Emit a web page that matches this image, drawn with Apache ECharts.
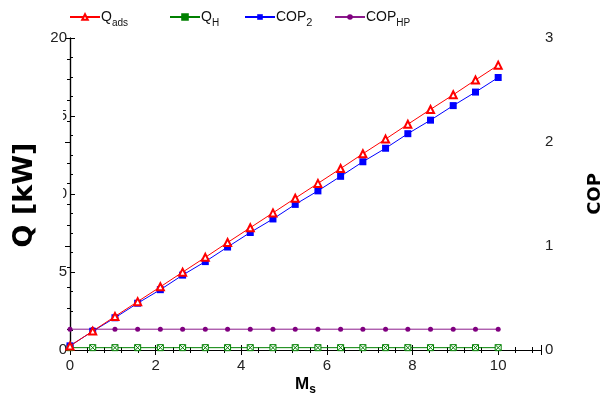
<!DOCTYPE html>
<html>
<head>
<meta charset="utf-8">
<script src="https://cdn.jsdelivr.net/npm/echarts@6/dist/echarts.min.js"></script>
<style>
  html, body { margin: 0; padding: 0; background: #fff; }
  #chart { width: 603px; height: 394px; }
</style>
</head>
<body>
<div id="chart"></div>
<script>
// Mass ratio M_s on the horizontal axis
const msValues = [0, 0.53, 1.05, 1.58, 2.11, 2.63, 3.16, 3.68, 4.21, 4.74,
                  5.26, 5.79, 6.32, 6.84, 7.37, 7.89, 8.42, 8.95, 9.47, 10];
// Heat flows [kW] (left axis)
const qAds = [0.26, 1.21, 2.15, 3.10, 4.05, 4.99, 5.94, 6.89, 7.84, 8.79,
              9.73, 10.68, 11.63, 12.58, 13.52, 14.47, 15.42, 16.36, 17.31, 18.26];
const qH = [0.15, 0.15, 0.15, 0.15, 0.15, 0.15, 0.15, 0.15, 0.15, 0.15,
            0.15, 0.15, 0.15, 0.15, 0.15, 0.15, 0.15, 0.15, 0.15, 0.15];
// Coefficients of performance (right axis)
const cop2 = [0.04, 0.18, 0.31, 0.45, 0.58, 0.72, 0.85, 0.99, 1.13, 1.26,
              1.40, 1.53, 1.67, 1.81, 1.94, 2.08, 2.21, 2.35, 2.48, 2.62];
const copHP = [0.2, 0.2, 0.2, 0.2, 0.2, 0.2, 0.2, 0.2, 0.2, 0.2,
               0.2, 0.2, 0.2, 0.2, 0.2, 0.2, 0.2, 0.2, 0.2, 0.2];

const seriesNames = ['Q_ads', 'Q_H', 'COP_2', 'COP_HP'];
const legendLabels = {
  'Q_ads': 'Q{sub|ads}',
  'Q_H': 'Q{sub|H}',
  'COP_2': 'COP{sub2|2}',
  'COP_HP': 'COP{sub|HP}'
};
const legendLeft = [64, 164, 239, 329];

const pairs = (ys) => msValues.map((x, i) => [x, ys[i]]);

const axisFont = { fontFamily: 'Liberation Sans, Arial, sans-serif', fontSize: 15, color: '#222' };
const lineAxis = { lineStyle: { color: '#000', width: 1.2 } };

const chart = echarts.init(document.getElementById('chart'), null, { renderer: 'canvas' });

const legendRich = {
  sub: { fontSize: 10, fontFamily: 'Liberation Sans, Arial, sans-serif', color: '#111', verticalAlign: 'bottom', lineHeight: 16, padding: [0, 0, -3, 0] },
  sub2: { fontSize: 11, fontFamily: 'Liberation Sans, Arial, sans-serif', color: '#111', verticalAlign: 'bottom', lineHeight: 16, padding: [0, 0, -3, 0] }
};

chart.setOption({
  animation: false,
  backgroundColor: '#fff',
  grid: { left: 70, right: 62, top: 38, bottom: 44, containLabel: false, outerBoundsMode: 'none' },
  legend: seriesNames.map((n, i) => ({
    data: [n],
    left: legendLeft[i],
    top: 5,
    itemWidth: 30,
    itemHeight: 7,
    itemGap: 0,
    formatter: (name) => legendLabels[name],
    textStyle: {
      fontFamily: 'Liberation Sans, Arial, sans-serif',
      fontSize: 14,
      color: '#111',
      padding: [0, 0, 0, -4],
      rich: legendRich
    }
  })),
  xAxis: [
    {
      type: 'value', min: 0, max: 11, interval: 2,
      position: 'bottom',
      name: '{m|M}{s|s}',
      nameLocation: 'middle',
      nameMoveOverlap: false,
      nameGap: 25,
      nameTextStyle: {
        lineHeight: 18,
        rich: {
          m: { fontFamily: 'Liberation Sans, Arial, sans-serif', fontWeight: 'bold', fontSize: 17, lineHeight: 18, color: '#000' },
          s: { fontFamily: 'Liberation Sans, Arial, sans-serif', fontWeight: 'bold', fontSize: 12, lineHeight: 18, color: '#000', verticalAlign: 'bottom', padding: [0, 0, -3, 0] }
        }
      },
      axisLine: lineAxis,
      axisTick: { inside: true, length: 5, lineStyle: { color: '#000' } },
      minorTick: { show: true, splitNumber: 5, length: 3, lineStyle: { color: '#000' } },
      axisLabel: Object.assign({ margin: 8, showMaxLabel: false }, axisFont),
      splitLine: { show: false }
    },
    {
      type: 'value', min: 0, max: 11, interval: 2,
      position: 'top',
      axisLine: lineAxis,
      axisTick: { inside: true, length: 5, lineStyle: { color: '#000' } },
      minorTick: { show: true, splitNumber: 5, length: 3, lineStyle: { color: '#000' } },
      axisLabel: { show: false },
      splitLine: { show: false }
    }
  ],
  yAxis: [
    {
      type: 'value', min: 0, max: 20, interval: 5,
      position: 'left',
      axisLine: lineAxis,
      axisTick: { inside: true, length: 5, lineStyle: { color: '#000' } },
      minorTick: { show: true, splitNumber: 4, length: 3, lineStyle: { color: '#000' } },
      axisLabel: Object.assign({ margin: 3 }, axisFont),
      splitLine: { show: false }
    },
    {
      type: 'value', min: 0, max: 3, interval: 1,
      position: 'right',
      name: 'COP',
      nameLocation: 'middle',
      nameRotate: 90,
      nameGap: 45,
      nameTextStyle: { fontFamily: 'DejaVu Sans, Verdana, sans-serif', fontWeight: 'bold', fontSize: 18, color: '#000' },
      axisLine: lineAxis,
      axisTick: { inside: true, length: 5, lineStyle: { color: '#000' } },
      minorTick: { show: true, splitNumber: 5, length: 3, lineStyle: { color: '#000' } },
      axisLabel: Object.assign({ margin: 4 }, axisFont),
      splitLine: { show: false }
    }
  ],
  graphic: [
    // white panel behind the left axis title
    { type: 'rect', left: 0, top: 60, shape: { width: 63, height: 180 }, style: { fill: '#fff' }, z: 50 },
    {
      type: 'text', z: 51,
      x: 25, y: 195, rotation: Math.PI / 2,
      style: {
        text: 'Q [kW]',
        font: 'bold 27px "DejaVu Sans", Verdana, sans-serif',
        fill: '#000',
        align: 'center',
        verticalAlign: 'middle'
      }
    }
  ],
  series: [
    {
      name: 'Q_ads', type: 'line', xAxisIndex: 0, yAxisIndex: 0,
      data: pairs(qAds),
      symbol: 'emptyTriangle', symbolSize: 7,
      lineStyle: { color: '#ff0000', width: 1 },
      itemStyle: { color: '#ff0000', borderColor: '#ff0000', borderWidth: 1 },
      z: 5
    },
    {
      name: 'Q_H', type: 'line', xAxisIndex: 0, yAxisIndex: 0,
      data: pairs(qH),
      symbol: 'path://M0,0L10,0L10,10L0,10ZM0,0L10,10M10,0L0,10', symbolSize: 6,
      lineStyle: { color: '#008000', width: 1 },
      itemStyle: { color: '#ffffff', borderColor: '#008000', borderWidth: 1 },
      z: 3
    },
    {
      name: 'COP_2', type: 'line', xAxisIndex: 0, yAxisIndex: 1,
      data: pairs(cop2),
      symbol: 'rect', symbolSize: 7,
      lineStyle: { color: '#0000ff', width: 1 },
      itemStyle: { color: '#0000ff' },
      z: 4
    },
    {
      name: 'COP_HP', type: 'line', xAxisIndex: 0, yAxisIndex: 1,
      data: pairs(copHP),
      symbol: 'circle', symbolSize: 5,
      lineStyle: { color: '#8b1a8b', width: 1 },
      itemStyle: { color: '#800080' },
      z: 3
    }
  ]
});
</script>
</body>
</html>
